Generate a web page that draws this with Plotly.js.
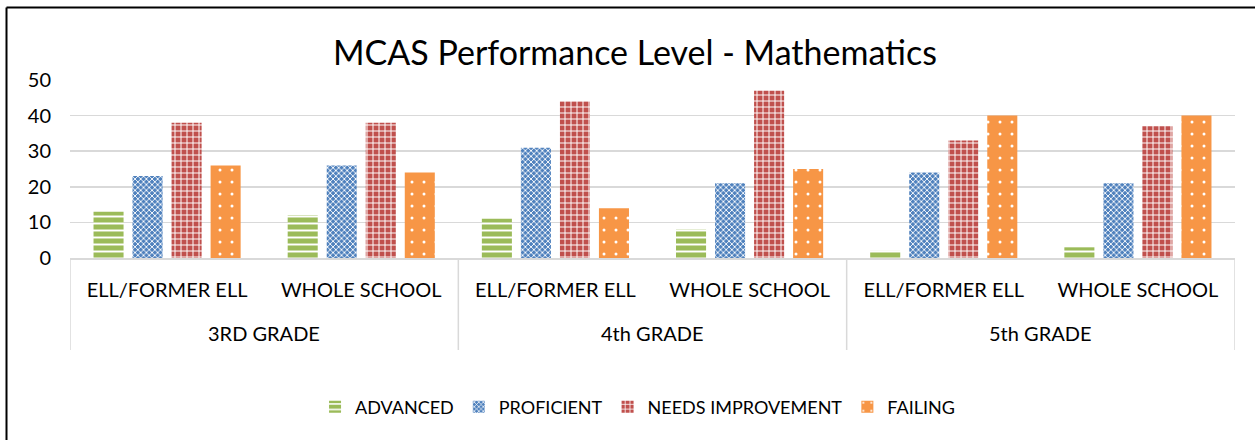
<!DOCTYPE html>
<html><head><meta charset="utf-8">
<script src="https://cdn.plot.ly/plotly-3.0.1.min.js"></script>
<style>html,body{margin:0;padding:0;background:#fff}#chart{width:1255px;height:440px}</style>
</head><body><div id="chart"></div>
<script>
const gradeLabels = ['3RD GRADE','3RD GRADE','4th GRADE','4th GRADE','5th GRADE','5th GRADE'];
const groupLabels = ['ELL/FORMER ELL','WHOLE SCHOOL','ELL/FORMER ELL','WHOLE SCHOOL','ELL/FORMER ELL','WHOLE SCHOOL'];
const seriesNames = ['ADVANCED','PROFICIENT','NEEDS IMPROVEMENT','FAILING'];
const advanced = [13, 12, 11, 8, 2, 3];
const proficient = [23, 26, 31, 21, 24, 21];
const needsImprovement = [38, 38, 44, 47, 33, 37];
const failing = [26, 24, 14, 25, 40, 40];
const yTicks = [0, 10, 20, 30, 40, 50];

const FONT = 'Lato, "Open Sans", sans-serif';
const idx = groupLabels.map((_, i) => i);

// grade groups: centre and boundaries on the x axis
const grades = [...new Set(gradeLabels)];
const gradeInfo = grades.map(g => {
  const ii = idx.filter(i => gradeLabels[i] === g);
  return {name: g, center: (ii[0] + ii[ii.length - 1]) / 2, lo: ii[0] - 0.5, hi: ii[ii.length - 1] + 0.5};
});
const boundaries = [...new Set(gradeInfo.flatMap(g => [g.lo, g.hi]))];

const styles = [
  {c:'#9BBB59', shape:'-', size:7, sol:0.28},
  {c:'#4F81BD', shape:'x', size:4, sol:0.4},
  {c:'#C0504D', shape:'+', size:6, sol:0.3},
  {c:'#F79646', shape:'.', size:12, sol:0.05}
];
const vals = [advanced, proficient, needsImprovement, failing];
const data = vals.map((v,i)=>({
  type:'bar', name: seriesNames[i], x: idx, y: v,
  marker:{color: styles[i].c, line:{width:0},
    pattern:{shape: styles[i].shape, size: styles[i].size, solidity: styles[i].sol,
             fgcolor:'#ffffff', bgcolor: styles[i].c, fillmode:'replace'}},
  hoverinfo:'skip'
}));

const PLOT_H = 178;
const shapes = boundaries.map(b => ({
  type:'line', xref:'x', yref:'paper', x0:b, x1:b, y0:0, y1:-92/PLOT_H,
  line:{color:'#D9D9D9', width:1.5}
}));
shapes.push(
  {type:'line', xref:'paper', yref:'paper', x0:(6.5-70)/1165, x1:(6.5-70)/1165, y0:(258-7.5)/PLOT_H, y1:(258-445)/PLOT_H, line:{color:'#000', width:2}},
  {type:'line', xref:'paper', yref:'paper', x0:(6.5-70)/1165, x1:(1260-70)/1165, y0:(258-7.5)/PLOT_H, y1:(258-7.5)/PLOT_H, line:{color:'#000', width:2}}
);

const annotations = gradeInfo.map(g => ({
  xref:'x', yref:'paper', x:g.center, y:-75/PLOT_H, xanchor:'center', yanchor:'middle',
  text:g.name, showarrow:false, font:{size:20, family:FONT, color:'#000'}
}));

const layout = {
  width:1255, height:440,
  margin:{l:70, r:20, t:80, b:182},
  paper_bgcolor:'#fff', plot_bgcolor:'#fff',
  font:{family: FONT, color:'#000'},
  barmode:'group', bargap:0.196, bargroupgap:0.23,
  title:{text:'MCAS Performance Level - Mathematics', font:{size:34, family:FONT, color:'#000'},
         xref:'container', x:0.506, xanchor:'center', yref:'container', y:1-53/440, yanchor:'middle'},
  xaxis:{range:[-0.5, groupLabels.length - 0.5], tickvals: idx, ticktext: groupLabels,
         showline:true, linecolor:'#D9D9D9', linewidth:1.5, zeroline:false,
         ticks:'', ticklabelstandoff:13,
         tickfont:{size:20, family:FONT, color:'#000'}, showgrid:false},
  yaxis:{range:[0,50], tickvals:yTicks, ticktext:yTicks.map(String), showgrid:true, gridcolor:'#D9D9D9', gridwidth:1.5,
         zeroline:false, showline:false, ticks:'', ticklabelstandoff:18,
         tickfont:{size:20, family:FONT, color:'#000'}},
  legend:{orientation:'h', xref:'container', x:0.508, xanchor:'center', yref:'container', y:1-407/440, yanchor:'middle',
          font:{size:18, family:FONT, color:'#000'}, itemwidth:30, traceorder:'normal'},
  shapes: shapes,
  annotations: annotations,
  showlegend:true
};
Plotly.newPlot('chart', data, layout, {displayModeBar:false, staticPlot:true});
</script></body></html>
